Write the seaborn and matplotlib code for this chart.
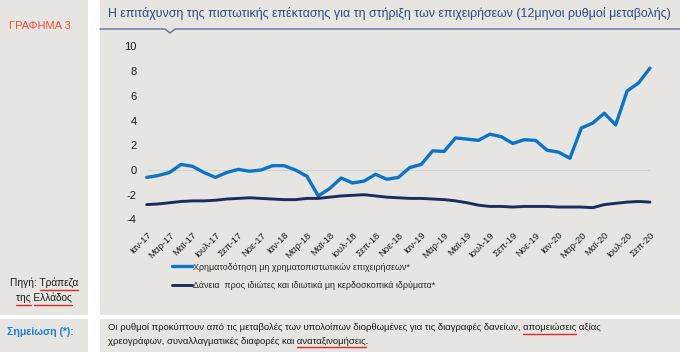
import numpy as np
import pandas as pd
import matplotlib
matplotlib.use("Agg")
import matplotlib.pyplot as plt
from matplotlib.patches import Rectangle
from matplotlib.lines import Line2D
import seaborn as sns

# data (12-month growth rates, %), monthly Jan-17 .. Sep-20
months = pd.date_range("2017-01-01", "2020-09-01", freq="MS")
nfc_financing = [-0.6, -0.45, -0.2, 0.45, 0.3, -0.2, -0.6, -0.2, 0.05, -0.1,
                 0.0, 0.35, 0.35, 0.0, -0.5, -2.1, -1.5, -0.65, -1.05, -0.9,
                 -0.35, -0.75, -0.6, 0.2, 0.45, 1.55, 1.5, 2.6, 2.5, 2.4,
                 2.9, 2.7, 2.15, 2.45, 2.4, 1.6, 1.45, 0.95, 3.4, 3.8,
                 4.6, 3.65, 6.4, 7.05, 8.25]
households_loans = [-2.8, -2.75, -2.65, -2.55, -2.5, -2.5, -2.45, -2.35, -2.3, -2.25,
                    -2.3, -2.35, -2.4, -2.4, -2.3, -2.3, -2.2, -2.1, -2.05, -2.0,
                    -2.1, -2.2, -2.25, -2.3, -2.3, -2.35, -2.4, -2.5, -2.65, -2.85,
                    -2.95, -2.95, -3.0, -2.95, -2.95, -2.95, -3.0, -3.0, -3.0, -3.05,
                    -2.8, -2.7, -2.6, -2.55, -2.6]
month_names = ["Ιαν", "Μαρ", "Μαϊ", "Ιουλ", "Σεπ", "Νοε"]
tick_labels = [f"{month_names[(i % 12) // 2]}-{17 + i // 12}" for i in range(0, 45, 2)]
y_ticks = [-4, -2, 0, 2, 4, 6, 8, 10]

label_nfc = "Χρηματοδότηση μη χρηματοπιστωτικών επιχειρήσεων*"
label_hh = "Δάνεια  προς ιδιώτες και ιδιωτικά μη κερδοσκοπικά ιδρύματα*"

df = pd.DataFrame({"idx": np.arange(len(months)),
                   label_nfc: nfc_financing,
                   label_hh: households_loans})
long = df.melt(id_vars="idx", var_name="series", value_name="value")

sns.set_theme(style="white")
plt.rcParams["font.family"] = ["Liberation Sans", "DejaVu Sans"]

W, H = 680, 352
fig = plt.figure(figsize=(W / 100, H / 100), dpi=100, facecolor="white")
renderer = fig.canvas.get_renderer()

def fx(x):
    return x / W

def fy(y):
    return 1 - y / H

def text_width(s, **kw):
    # width in pixels of a string drawn with the given text properties
    t = fig.text(0, 0, s, **kw)
    w = t.get_window_extent(renderer).width
    t.remove()
    return w

def underline(x_left, y, line, words, ha="left", **kw):
    # red spell-check marks under the given words of a text line
    if ha == "center":
        x_left = x_left - text_width(line, **kw) / 2
    for w in words:
        start = line.index(w)
        x0 = x_left + text_width(line[:start], **kw) if start else x_left
        x1 = x_left + text_width(line[:start + len(w)], **kw)
        fig.add_artist(Line2D([fx(x0), fx(x1)], [fy(y), fy(y)],
                              transform=fig.transFigure, color="#e02a2a", lw=1))

bg = "#e6e5e1"
for (x0, y0, x1, y1) in [(0, 0, 88, 315), (100, 0, 680, 315),
                         (0, 319, 88, 352), (100, 319, 680, 352)]:
    fig.add_artist(Rectangle((fx(x0), fy(y1)), fx(x1) - fx(x0), fy(y0) - fy(y1),
                             transform=fig.transFigure, facecolor=bg,
                             edgecolor="none", zorder=0))

# header
fig.text(fx(40), fy(26), "ΓΡΑΦΗΜΑ 3", ha="center", va="center",
         fontsize=8, color="#e8503a")
fig.text(fx(108), fy(13), "Η επιτάχυνση της πιστωτικής επέκτασης για τη στήριξη "
         "των επιχειρήσεων (12μηνοι ρυθμοί μεταβολής)", ha="left", va="center",
         fontsize=8.9, color="#2a4b7c")
hx = [100, 165, 170, 175, 680]
hy = [29, 29, 33, 29, 29]
fig.add_artist(Line2D([fx(v) for v in hx], [fy(v) for v in hy],
                      transform=fig.transFigure, color="#55739c", lw=1))

# plot area: month 0 at x=146.7, month 44 at x=650; y=10 at 46.5, y=-4 at 219.4
px_m = (650 - 146.7) / 44
left = 146.7 - 0.5 * px_m
right = 650 + 0.5 * px_m
ax = fig.add_axes([fx(left), fy(219.4), fx(right) - fx(left), fy(46.5) - fy(219.4)])
ax.set_facecolor("none")

ax.hlines(0, 0, len(months) - 1, color="#d3d1cc", lw=0.8, zorder=1)
sns.lineplot(data=long, x="idx", y="value", hue="series",
             palette=["#0a74c9", "#1b2d5e"], ax=ax, legend=False, zorder=3)
for line, lw in zip(ax.get_lines(), [2.4, 2.1]):
    line.set_linewidth(lw)
    line.set_solid_joinstyle("round")
    line.set_solid_capstyle("round")
    line.set_clip_on(False)

ax.set_xlim(-0.5, len(months) - 0.5)
ax.set_ylim(-4, 10)
ax.set_yticks(y_ticks)
ax.set_yticklabels([str(v) for v in y_ticks], fontsize=8, color="#1a1a1a")
ax.set_xticks(range(0, len(months), 2))
ax.set_xticklabels(tick_labels, rotation=45, ha="right", va="top",
                   rotation_mode="anchor", fontsize=6.8, color="#1a1a1a")
ax.tick_params(axis="both", length=0)
ax.tick_params(axis="y", pad=3)
ax.tick_params(axis="x", pad=8)
ax.set_xlabel("")
ax.set_ylabel("")
for s in ax.spines.values():
    s.set_visible(False)

handles = [Line2D([], [], color="#0a74c9", lw=2.4),
           Line2D([], [], color="#1b2d5e", lw=2.1)]
fig.legend(handles, [label_nfc, label_hh], loc="upper left",
           bbox_to_anchor=(fx(168), fy(259)), frameon=False,
           prop={"size": 6.4}, handlelength=2.3,
           handletextpad=0.1, labelspacing=1.1, borderaxespad=0)

# source and note
src_kw = dict(fontsize=7.3, color="#1a1a1a")
fig.text(fx(44), fy(283), "Πηγή: Τράπεζα", ha="center", va="center", **src_kw)
fig.text(fx(44), fy(298), "της Ελλάδος", ha="center", va="center", **src_kw)
underline(44, 290, "Πηγή: Τράπεζα", ["Τράπεζα"], ha="center", **src_kw)
underline(44, 305, "της Ελλάδος", ["της", "Ελλάδος"], ha="center", **src_kw)

fig.text(fx(7), fy(332), "Σημείωση (*):", ha="left", va="center",
         fontsize=7.6, fontweight="bold", color="#1f7fd4")
note_kw = dict(fontsize=6.8, color="#1a1a1a")
note1 = ("Οι ρυθμοί προκύπτουν από τις μεταβολές των υπολοίπων διορθωμένες "
         "για τις διαγραφές δανείων, απομειώσεις αξίας")
note2 = "χρεογράφων, συναλλαγματικές διαφορές και αναταξινομήσεις."
fig.text(fx(108), fy(328), note1, ha="left", va="center", **note_kw)
fig.text(fx(108), fy(341), note2, ha="left", va="center", **note_kw)
underline(108, 334, note1, ["απομειώσεις"], **note_kw)
underline(108, 347, note2, ["αναταξινομήσεις"], **note_kw)

fig.savefig("out.png", dpi=100, facecolor="white")
